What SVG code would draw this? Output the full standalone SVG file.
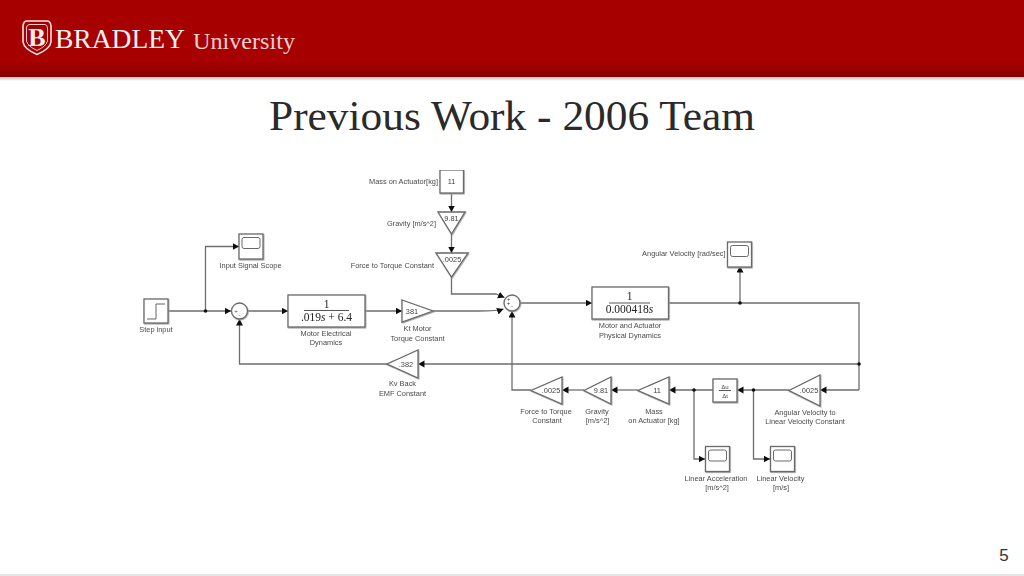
<svg xmlns="http://www.w3.org/2000/svg" width="1024" height="576" viewBox="0 0 1024 576">
<style>
.wire{fill:none;stroke:#6e6e6e;stroke-width:1.300}
.arrow{marker-end:url(#ah)}
.dot{fill:#111;stroke:none}
.blk{fill:#fff;stroke:#6a6a6a;stroke-width:1.300;filter:url(#sh)}
.in{fill:#fff;stroke:#6a6a6a;stroke-width:1}
.lb{font-family:"Liberation Sans",Arial,sans-serif;font-size:7.400px;fill:#4a4a4a;text-anchor:middle}
.lr{text-anchor:end}
.v{font-family:"Liberation Sans",Arial,sans-serif;font-size:7.400px;fill:#444;text-anchor:middle}
.f{font-family:"Liberation Serif","Times New Roman",serif;font-size:11.500px;fill:#222;text-anchor:middle}
.fl{stroke:#444;stroke-width:.9;fill:none}
.sg{font-family:"Liberation Sans",Arial,sans-serif;font-size:6px;fill:#444;text-anchor:middle}
</style>
<defs>
<marker id="ah" markerUnits="userSpaceOnUse" markerWidth="8" markerHeight="8" refX="6.500" refY="3.500" orient="auto"><path d="M0 0L6.500 3.500L0 7Z" fill="#111"/></marker>
<linearGradient id="hd" x1="0" y1="0" x2="0" y2="1"><stop offset="0" stop-color="#a80000"/><stop offset=".8" stop-color="#a60000"/><stop offset=".95" stop-color="#8f0000"/><stop offset="1" stop-color="#7c0000"/></linearGradient>
<linearGradient id="hs" x1="0" y1="0" x2="0" y2="1"><stop offset="0" stop-color="#bdbdbd"/><stop offset="1" stop-color="#fff"/></linearGradient>
<filter id="sh" x="-20%" y="-20%" width="140%" height="140%"><feDropShadow dx=".6" dy=".8" stdDeviation=".5" flood-color="#999"/></filter>
<filter id="soft" x="0" y="0" width="100%" height="100%"><feGaussianBlur stdDeviation=".35"/></filter>
<g id="scope"><rect class="blk" width="24" height="25"/><rect class="in" x="3" y="3.500" width="18" height="11" rx="2"/></g>
</defs>
<rect width="1024" height="576" fill="#fff"/>
<g id="header">
<rect width="1024" height="77" fill="url(#hd)"/>
<rect y="77" width="1024" height="4" fill="url(#hs)"/>
<g id="logo">
<path d="M27 21H47Q50.500 21 51 26V42Q50 49 37 54.500Q24 49 23 42V26Q23.500 21 27 21Z" fill="#a50000" stroke="#f2e4e4" stroke-width="1.600"/>
<path d="M29 24.500H45Q47.500 25 47.500 28V41Q46.500 46 37 50.500Q27.500 46 26.500 41V28Q26.500 25 29 24.500Z" fill="#a50000" stroke="#e8caca" stroke-width="1"/>
<text x="37" y="46" font-family="'Liberation Serif',serif" font-size="26" font-weight="bold" fill="#f6ecec" text-anchor="middle">B</text>
</g>
<text x="55" y="47.500" font-family="'Liberation Serif','Times New Roman',serif" font-size="28" fill="#fbf2f2" textLength="130" lengthAdjust="spacingAndGlyphs">BRADLEY</text>
<text x="193" y="48.500" font-family="'Liberation Serif','Times New Roman',serif" font-size="24" fill="#edcfcf" textLength="102" lengthAdjust="spacingAndGlyphs">University</text>
</g>
<text id="title" x="269" y="130" font-family="'Liberation Serif','Times New Roman',serif" font-size="43" fill="#2a2a2a" textLength="486" lengthAdjust="spacingAndGlyphs">Previous Work - 2006 Team</text>
<text id="page" x="1004" y="561" font-family="'Liberation Sans',Arial,sans-serif" font-size="17" fill="#333" text-anchor="middle">5</text>
<rect id="footline" y="574" width="1024" height="2" fill="#e4e4e4"/>
<g id="diagram" filter="url(#soft)">
<g id="connectors">
<path class="wire arrow" d="M168 311H231"/>
<path class="wire arrow" d="M205.500 311V246.500H239"/>
<path class="wire arrow" d="M247.500 311H288"/>
<path class="wire arrow" d="M365 311H402"/>
<path class="wire arrow" d="M433 311H478Q498 311 503.500 309"/>
<path class="wire arrow" d="M451.500 193V212"/>
<path class="wire arrow" d="M451.500 234V253"/>
<path class="wire arrow" d="M451.500 277V294H496L504.500 297.500"/>
<path class="wire arrow" d="M520 303H592"/>
<path class="wire" d="M669 303H859V390"/>
<path class="wire arrow" d="M740 303V266"/>
<path class="wire arrow" d="M859 364H418"/>
<path class="wire arrow" d="M387 364H239.500V319"/>
<path class="wire arrow" d="M859 390H820"/>
<path class="wire arrow" d="M789 390H737"/>
<path class="wire arrow" d="M713 390H669"/>
<path class="wire arrow" d="M638 390H611"/>
<path class="wire arrow" d="M584 390H562"/>
<path class="wire arrow" d="M531 390H512V311"/>
<path class="wire arrow" d="M753.500 390V459H770"/>
<path class="wire arrow" d="M694 390V459H705"/>
<circle class="dot" cx="205.500" cy="311" r="1.800"/>
<circle class="dot" cx="740" cy="303" r="1.800"/>
<circle class="dot" cx="859" cy="364" r="1.800"/>
<circle class="dot" cx="753.500" cy="390" r="1.800"/>
<circle class="dot" cx="694" cy="390" r="1.800"/>
</g>
<g id="step-input"><rect class="blk" x="144" y="299" width="24" height="24"/><path d="M147 319H156V304H165" fill="none" stroke="#666" stroke-width="1"/><text class="lb" x="156" y="331.500">Step input</text></g>
<g id="input-scope"><use href="#scope" x="239" y="234"/><text class="lb" x="250.500" y="267.500">Input Signal Scope</text></g>
<g id="sum1"><circle class="blk" cx="239.500" cy="311" r="8"/><text class="sg" x="236" y="313">+</text><text class="sg" x="239.500" y="317">-</text></g>
<g id="motor-electrical"><rect class="blk" x="288" y="295" width="77" height="32"/><text class="f" x="326.500" y="308">1</text><path class="fl" d="M304 310.500H349"/><text class="f" x="326.500" y="320.500">.019<tspan font-style="italic">s</tspan> + 6.4</text><text class="lb" x="326" y="336">Motor Electrical</text><text class="lb" x="326" y="345">Dynamics</text></g>
<g id="kt-gain"><path class="blk" d="M402 300L433 311L402 322Z"/><text class="v" x="412" y="313.500">381</text><text class="lb" x="417.500" y="331">Kt Motor</text><text class="lb" x="417.500" y="340.500">Torque Constant</text></g>
<g id="mass-const"><rect class="blk" x="440" y="170" width="23.500" height="23"/><text class="v" x="451.500" y="184">11</text><text class="lb lr" x="438" y="184">Mass on Actuator[kg]</text></g>
<g id="gravity-gain"><path class="blk" d="M438 212H465L451.500 234Z"/><text class="v" x="451.500" y="220.500">9.81</text><text class="lb lr" x="436" y="226">Gravity [m/s^2]</text></g>
<g id="force-gain"><path class="blk" d="M436 253H468L451.500 277Z"/><text class="v" x="452" y="261.500">.0025</text><text class="lb lr" x="434" y="268">Force to Torque Constant</text></g>
<g id="sum2"><circle class="blk" cx="512" cy="303" r="8"/><text class="sg" x="508.500" y="301">+</text><text class="sg" x="508.500" y="305">+</text><text class="sg" x="512" y="308">-</text></g>
<g id="motor-physical"><rect class="blk" x="592" y="287" width="76.500" height="32"/><text class="f" x="629.500" y="300">1</text><path class="fl" d="M609 303H650"/><text class="f" x="629.500" y="312.500">0.000418<tspan font-style="italic">s</tspan></text><text class="lb" x="630" y="328">Motor and Actuator</text><text class="lb" x="630" y="337.500">Physical Dynamics</text></g>
<g id="angular-scope"><use href="#scope" x="727.500" y="242"/><text class="lb lr" x="725.500" y="256">Angular Velocity [rad/sec]</text></g>
<g id="kv-gain"><path class="blk" d="M418 350V378L387 364Z"/><text class="v" x="406" y="366.500">.382</text><text class="lb" x="402.500" y="386">Kv Back</text><text class="lb" x="402.500" y="395.500">EMF Constant</text></g>
<g id="ang-gain"><path class="blk" d="M820 375V406L789 390.500Z"/><text class="v" x="809" y="393">.0025</text><text class="lb" x="805" y="415">Angular Velocity to</text><text class="lb" x="805" y="424">Linear Velocity Constant</text></g>
<g id="derivative"><rect class="blk" x="713" y="379" width="24" height="23"/><text class="sg" x="725" y="388.500" font-family="'Liberation Serif',serif">Δu</text><path class="fl" d="M719 390.500H731"/><text class="sg" x="725" y="398" font-family="'Liberation Serif',serif">Δt</text></g>
<g id="mass-gain"><path class="blk" d="M669 377V404L638 390.500Z"/><text class="v" x="657" y="393">11</text><text class="lb" x="654" y="413.500">Mass</text><text class="lb" x="654" y="422.500">on Actuator [kg]</text></g>
<g id="gravity-gain2"><path class="blk" d="M611 377V404L584 390.500Z"/><text class="v" x="601" y="393">9.81</text><text class="lb" x="597" y="413.500">Gravity</text><text class="lb" x="597.500" y="422.500">[m/s^2]</text></g>
<g id="force-gain2"><path class="blk" d="M562 377V404L531 390.500Z"/><text class="v" x="551" y="393">.0025</text><text class="lb" x="546" y="413.500">Force to Torque</text><text class="lb" x="547" y="422.500">Constant</text></g>
<g id="accel-scope"><use href="#scope" x="705.500" y="446.500"/><text class="lb" x="716" y="480.500">Linear Acceleration</text><text class="lb" x="717" y="489.500">[m/s^2]</text></g>
<g id="velocity-scope"><use href="#scope" x="770.500" y="446.500"/><text class="lb" x="780.500" y="480.500">Linear Velocity</text><text class="lb" x="781" y="489.500">[m/s]</text></g>
</g>
</svg>
